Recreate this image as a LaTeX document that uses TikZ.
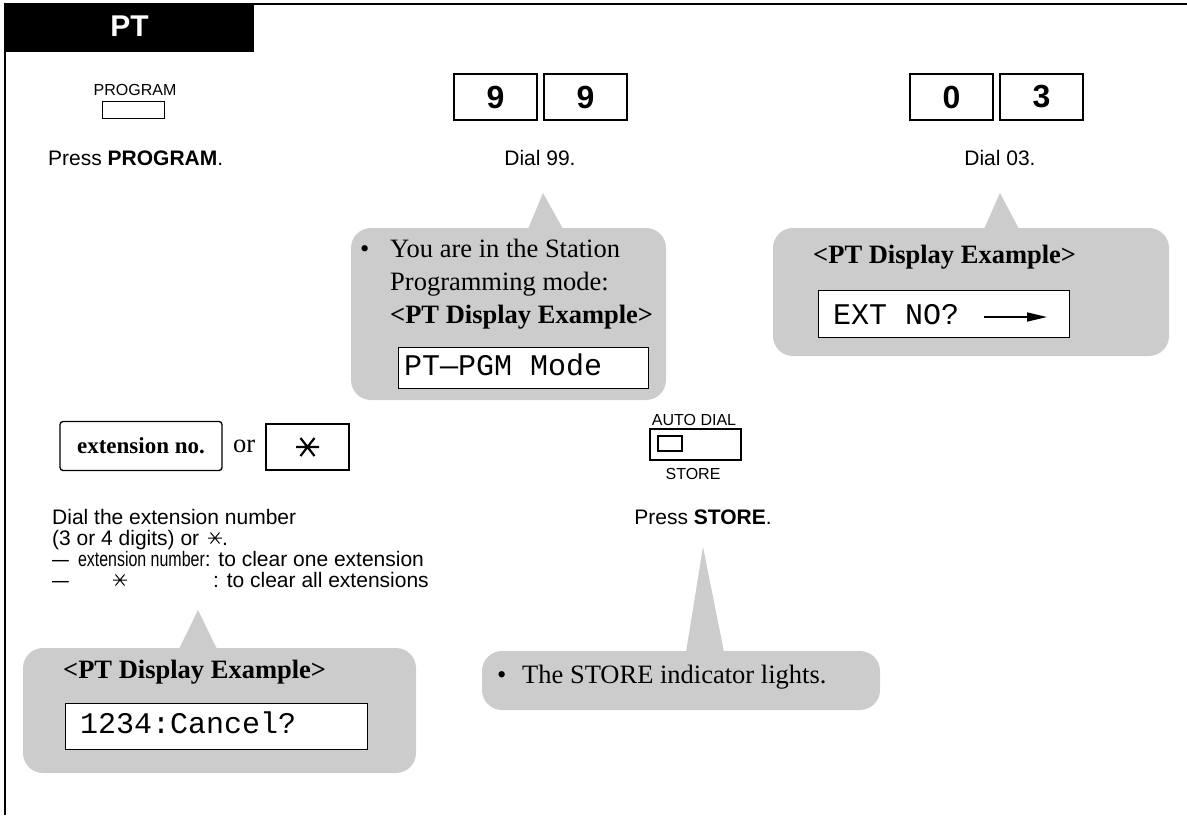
\documentclass[tikz,border=0pt]{standalone}
\usepackage{fontspec}
\setmainfont{Liberation Serif}
\setsansfont{Liberation Sans}
\setmonofont{Liberation Mono}
\usetikzlibrary{arrows.meta}

\newcommand{\fsz}[1]{\fontsize{#1}{#1}\selectfont}
% six-armed star of the keypad: centre, half width, arm dx, arm dy, line width
\newcommand{\asterkey}[5]{%
  \draw[line width=#5, shift={(#1)}] (-#2,0) -- (#2,0) (-#3,-#4) -- (#3,#4) (-#3,#4) -- (#3,-#4);}

\begin{document}
\begin{tikzpicture}[x=1pt, y=-1pt,
    digitkey/.style={draw, line width=2pt, minimum width=83pt, minimum height=46pt,
      inner sep=0pt, font=\sffamily\bfseries\fsz{32}},
    keylabel/.style={anchor=base, inner sep=0pt, font=\sffamily\fsz{16}},
    note/.style={inner sep=0pt, font=\sffamily\fsz{21}},
    bubble/.style={fill=black!20, rounded corners=20pt},
    tip/.style={fill=black!20},
    serif/.style={anchor=base west, inner sep=0pt, font=\fsz{26.5}},
    lcd/.style={draw, fill=white, line width=1.2pt, anchor=north west, inner sep=0pt},
    lcdtext/.style={anchor=base west, inner sep=0pt, font=\ttfamily\fsz{30}}]
    \useasboundingbox (0,0) rectangle (1187,815);

    % frame and tab
    \draw[line width=2pt] (5,815) -- (5,4) -- (1187,4);
    \fill (5,3) rectangle (254,52);
    \node[text=white, font=\sffamily\bfseries\fsz{30}] (tab) at (129.5,26) {PT};

    % step 1
    \node[keylabel] (proglbl) at (135,95) {PROGRAM};
    \node[draw, line width=1.5pt, minimum width=62pt, minimum height=17pt, inner sep=0pt] (progkey) at (133.5,110) {};
    \node[note, anchor=base west] (pressprog) at (48,165) {Press \textbf{PROGRAM}.};

    % step 2
    \node[digitkey] (ninea) at (495.5,97) {9};
    \node[digitkey] (nineb) at (585.5,97) {9};
    \node[note, anchor=base] (dialnn) at (540,165) {Dial 99.};

    \fill[bubble] (351,228) rectangle (666,400);
    \fill[tip] (528,229) -- (543,193) -- (563,229) -- cycle;
    \node[serif] (bulone) at (360,257) {•};
    \node[serif] (lineone) at (390,257) {You are in the Station};
    \node[serif] (linetwo) at (390,290) {Programming mode:};
    \node[serif] (linethree) at (390,323) {\textbf{<PT Display Example>}};
    \node[lcd, minimum width=250pt, minimum height=41pt] (lcdone) at (398,347) {};
    \node[lcdtext] (lcdonetxt) at (404,375) {PT—PGM Mode};

    % step 3
    \node[digitkey] (zero) at (951.5,97) {0};
    \node[digitkey] (three) at (1041.5,97) {3};
    \node[note, anchor=base] (dialzt) at (1000,165) {Dial 03.};

    \fill[bubble] (773,228) rectangle (1169,356);
    \fill[tip] (984,229) -- (1000,193) -- (1019,229) -- cycle;
    \node[serif] (headtwo) at (813,263) {\textbf{<PT Display Example>}};
    \node[lcd, minimum width=251pt, minimum height=47pt] (lcdtwo) at (818,290) {};
    \node[lcdtext] (lcdtwotxt) at (833,324) {EXT NO?};
    \coordinate (arrfrom) at (984,317);
    \coordinate (arrto) at (1047,317);
    \draw[line width=1.5pt, -{Triangle[length=20pt,width=9pt]}] (arrfrom) -- (arrto);

    % step 4
    \node[draw, rounded corners=3pt, line width=1.3pt, minimum width=162pt, minimum height=49pt,
      font=\bfseries\fsz{23}] (extkey) at (141,446) {extension no.};
    \node[serif] (ortxt) at (233,452) {or};
    \node[draw, line width=2pt, minimum width=83pt, minimum height=46pt] (starkey) at (307.5,447) {};
    \asterkey{starkey.center}{11.5}{7}{9}{2.2}

    \node[note, anchor=base west] (dialext) at (52,524) {Dial the extension number};
    \node[note, anchor=base west] (digits) at (52,545) {(3 or 4 digits) or};
    \coordinate (starone) at (215,538);
    \asterkey{starone}{7}{4.5}{5.5}{1}
    \node[note, anchor=base west] (dot) at (222,545) {.};
    \node[note, anchor=base west] (clearone) at (52,566)
      {\scalebox{0.8}[1]{—}\hspace{9pt}\scalebox{0.76}[1]{extension number}: to clear one extension};
    \node[note, anchor=base west] (dashtwo) at (52,587) {\scalebox{0.8}[1]{—}};
    \coordinate (startwo) at (120,580);
    \asterkey{startwo}{7}{4.5}{5.5}{1}
    \node[note, anchor=base west] (clearall) at (213,587) {: to clear all extensions};

    \fill[bubble] (23,648) rectangle (416,773);
    \fill[tip] (179,649) -- (198,610) -- (217,649) -- cycle;
    \node[serif] (headthree) at (63,678) {\textbf{<PT Display Example>}};
    \node[lcd, minimum width=302pt, minimum height=46pt] (lcdthree) at (65,703) {};
    \node[lcdtext] (lcdthreetxt) at (80,733) {1234:Cancel?};

    % step 5
    \node[keylabel] (autolbl) at (694,425) {AUTO DIAL};
    \node[draw, line width=2pt, minimum width=91pt, minimum height=31pt, inner sep=0pt] (storekey) at (695.5,444.5) {};
    \node[draw, line width=1.5pt, minimum width=24pt, minimum height=15pt, inner sep=0pt] (storelamp) at (670,443.5) {};
    \node[keylabel] (storelbl) at (693,479) {STORE};
    \node[note, anchor=base] (pressstore) at (703,524) {Press \textbf{STORE}.};

    \fill[bubble] (482,651) rectangle (880,710);
    \fill[tip] (686,652) -- (703,547) -- (724,652) -- cycle;
    \node[serif] (bulfour) at (497,683) {•};
    \node[serif] (lights) at (522,683) {The STORE indicator lights.};
\end{tikzpicture}
\end{document}
